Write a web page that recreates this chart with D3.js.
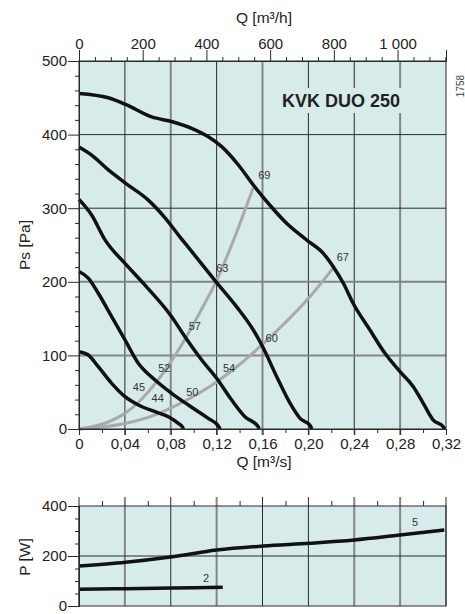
<!DOCTYPE html>
<html><head><meta charset="utf-8">
<script src="https://cdn.jsdelivr.net/npm/d3@7"></script>
<style>
html,body{margin:0;padding:0;background:#fff;}
svg{display:block;font-family:"Liberation Sans",Arial,sans-serif;}
</style></head>
<body>
<svg id="chart" width="465" height="614"></svg>
<script>
// ---------- DATA ----------
const qTicksS = [0, 0.04, 0.08, 0.12, 0.16, 0.20, 0.24, 0.28, 0.32];
const qTickLabelsS = ["0", "0,04", "0,08", "0,12", "0,16", "0,20", "0,24", "0,28", "0,32"];
const qTicksH = [0, 200, 400, 600, 800, 1000];
const qTickLabelsH = ["0", "200", "400", "600", "800", "1 000"];
const psTicks = [0, 100, 200, 300, 400, 500];
const pTicks = [0, 200, 400];

// fan curves: [Q m³/s, Ps Pa]
const fanCurve1 = [[0,456],[0.0256,450],[0.0407,441],[0.0634,424],[0.0814,417.5],[0.0982,408.5],[0.1128,397],[0.1244,383.6],[0.139,358.7],[0.152,331.5],[0.1665,304],[0.181,279.5],[0.1985,256.8],[0.213,238.7],[0.2217,220.5],[0.2305,198],[0.239,170.8],[0.2537,134.5],[0.2668,102.8],[0.2799,77.9],[0.2915,57.5],[0.3002,34.9],[0.3089,12.2],[0.3176,3.1],[0.319,0]];
const fanCurve2 = [[0,383],[0.011,372],[0.0256,352],[0.0407,333.8],[0.0604,311],[0.075,287],[0.0895,258],[0.0968,244],[0.1195,200],[0.1375,166],[0.152,134.5],[0.1607,110],[0.1724,71],[0.184,35],[0.1927,14.5],[0.2014,5],[0.203,0]];
const fanCurve3 = [[0,312],[0.011,290.8],[0.0227,257],[0.0401,225],[0.0575,195.6],[0.0808,152.6],[0.0924,125.4],[0.107,93.75],[0.12,68.9],[0.1331,39.4],[0.1447,16.7],[0.1563,3],[0.157,0]];
const fanCurve4 = [[0,214],[0.0081,205],[0.0168,184.4],[0.0285,152.6],[0.0401,121],[0.0517,89.3],[0.0663,66.6],[0.0808,48.5],[0.0953,32.6],[0.1127,14.5],[0.1215,4],[0.123,0]];
const fanCurve5 = [[0,105],[0.0081,100.5],[0.0168,84.6],[0.0285,62],[0.0401,43.9],[0.0517,32.6],[0.0663,23.5],[0.0779,16.7],[0.0866,7.7],[0.0905,2],[0.091,0]];

// system curves (grey)
const sysCurveA = [[0,0],[0.0256,9.5],[0.0401,21.3],[0.0517,36],[0.0677,64.3],[0.0808,93],[0.0924,122],[0.107,163],[0.12,202],[0.1331,250],[0.152,328]];
const sysCurveB = [[0,0],[0.0401,7.5],[0.0692,21],[0.0808,29],[0.107,51],[0.12,64],[0.1419,90],[0.1607,116],[0.2014,180],[0.2217,219]];

// curve labels: [text, Q, Ps]
const ptLabels = [["69",0.1616,345],["67",0.230,234],["63",0.125,219],["57",0.101,140],["60",0.168,124],["54",0.1308,83],["52",0.0744,83],["50",0.0988,50.7],["45",0.0523,57.5],["44",0.0686,41.7]];

// power curves: [Q m³/s, P W]
const powerCurve5 = [[0,160],[0.0407,175],[0.0814,197],[0.12,224],[0.1607,240],[0.2014,251],[0.24,264],[0.2799,284],[0.3185,304]];
const powerCurve2 = [[0,67],[0.0407,69],[0.0814,72],[0.1253,75]];
const powerLabels = [["5",0.293,335],["2",0.1107,113]];

// ---------- DRAW ----------
const svg = d3.select("#chart");
const bg = "#d7ecea", dark = "#2a2a2a", grey = "#858585", txt = "#222";

const x = d3.scaleLinear().domain([0, 0.32]).range([79, 446]);
const xH = d3.scaleLinear().domain([0, 0.32 * 3600]).range([79, 446]);
const y = d3.scaleLinear().domain([0, 500]).range([429, 61]);
const yP = d3.scaleLinear().domain([0, 400]).range([606, 506]);

const greyV = new Set([0.08, 0.16, 0.28]);
const greyH = new Set([100, 200]);
const greyVP = new Set([0.04, 0.12, 0.24, 0.28]);

// ---- upper panel ----
const up = svg.append("g");
up.append("rect").attr("x", x(0)).attr("y", y(500)).attr("width", x(0.32) - x(0)).attr("height", y(0) - y(500)).attr("fill", bg);

// vertical grid (extend below as major ticks)
up.selectAll(".vg").data(qTicksS.slice(1, -1)).join("line")
  .attr("x1", d => x(d)).attr("x2", d => x(d)).attr("y1", y(500)).attr("y2", y(0) + 6)
  .attr("stroke", d => greyV.has(d) ? grey : dark).attr("stroke-width", d => greyV.has(d) ? 2 : 1);
up.selectAll(".hg").data(psTicks.slice(1, -1)).join("line")
  .attr("x1", x(0)).attr("x2", x(0.32)).attr("y1", d => y(d)).attr("y2", d => y(d))
  .attr("stroke", d => greyH.has(d) ? grey : dark).attr("stroke-width", d => greyH.has(d) ? 2 : 1);

// title with background
up.append("rect").attr("x", 279).attr("y", 88).attr("width", 126).attr("height", 25).attr("fill", bg);
up.append("text").attr("x", 282).attr("y", 107).attr("font-size", 18).attr("font-weight", "bold").attr("fill", txt).text("KVK DUO 250");

// curves
const lineU = d3.line().x(d => x(d[0])).y(d => y(d[1])).curve(d3.curveMonotoneX);
[sysCurveA, sysCurveB].forEach(c => up.append("path").attr("d", lineU(c)).attr("fill", "none").attr("stroke", "#a9a9a9").attr("stroke-width", 3));
[fanCurve1, fanCurve2, fanCurve3, fanCurve4, fanCurve5].forEach(c => up.append("path").attr("d", lineU(c)).attr("fill", "none").attr("stroke", "#111").attr("stroke-width", 3.5).attr("stroke-linejoin", "round"));

up.selectAll(".pl").data(ptLabels).join("text")
  .attr("x", d => x(d[1])).attr("y", d => y(d[2])).attr("dy", "0.35em").attr("text-anchor", "middle")
  .attr("font-size", 11).attr("fill", "#333").text(d => d[0]);

// frame
up.append("rect").attr("x", x(0)).attr("y", y(500)).attr("width", x(0.32) - x(0)).attr("height", y(0) - y(500)).attr("fill", "none").attr("stroke", dark).attr("stroke-width", 1);

// axes
function styleAxis(g, fs) {
  g.select(".domain").attr("stroke", dark);
  g.selectAll(".tick line").attr("stroke", dark);
  g.selectAll(".tick text").attr("fill", txt).attr("font-size", fs).attr("font-family", "Liberation Sans, Arial, sans-serif");
}
// bottom
const bAx = up.append("g").attr("transform", `translate(0,${y(0)})`)
  .call(d3.axisBottom(x).tickValues(qTicksS).tickSize(6).tickPadding(3).tickFormat((d, i) => qTickLabelsS[i]));
styleAxis(bAx, 15);
const bMin = up.append("g").attr("transform", `translate(0,${y(0)})`)
  .call(d3.axisBottom(x).tickValues(qTicksS.slice(0, -1).map(d => d + 0.02)).tickSize(4).tickFormat(""));
styleAxis(bMin, 15);
// top (m³/h)
const tAx = up.append("g").attr("transform", `translate(0,${y(500)})`)
  .call(d3.axisTop(xH).tickValues(qTicksH).tickSize(11).tickPadding(1).tickFormat((d, i) => qTickLabelsH[i]));
styleAxis(tAx, 15);
const tMin = up.append("g").attr("transform", `translate(0,${y(500)})`)
  .call(d3.axisTop(xH).tickValues(d3.range(50, 1152, 50).filter(d => d % 200 !== 0)).tickSize(4).tickFormat(""));
styleAxis(tMin, 15);
// left
const lAx = up.append("g").attr("transform", `translate(${x(0)},0)`)
  .call(d3.axisLeft(y).tickValues(psTicks).tickSize(11).tickPadding(1).tickFormat(d => d));
styleAxis(lAx, 15);
const lMin = up.append("g").attr("transform", `translate(${x(0)},0)`)
  .call(d3.axisLeft(y).tickValues(d3.range(20, 500, 20).filter(d => d % 100 !== 0)).tickSize(4).tickFormat(""));
styleAxis(lMin, 15);

// axis titles
svg.append("text").attr("x", 264).attr("y", 23).attr("text-anchor", "middle").attr("font-size", 15.5).attr("fill", txt).text("Q [m³/h]");
svg.append("text").attr("x", 264).attr("y", 467).attr("text-anchor", "middle").attr("font-size", 15.5).attr("fill", txt).text("Q [m³/s]");
svg.append("text").attr("transform", "translate(30,245) rotate(-90)").attr("text-anchor", "middle").attr("font-size", 15.5).attr("fill", txt).text("Ps [Pa]");
svg.append("text").attr("transform", "translate(464,86) rotate(-90)").attr("text-anchor", "middle").attr("font-size", 10).attr("fill", "#444").text("1758");

// ---- lower panel ----
const lo = svg.append("g");
lo.append("rect").attr("x", x(0)).attr("y", yP(400)).attr("width", x(0.32) - x(0)).attr("height", yP(0) - yP(400)).attr("fill", bg);
lo.selectAll(".vg").data(qTicksS.slice(1, -1)).join("line")
  .attr("x1", d => x(d)).attr("x2", d => x(d)).attr("y1", yP(400) - 9).attr("y2", yP(0))
  .attr("stroke", d => greyVP.has(d) ? grey : dark).attr("stroke-width", d => greyVP.has(d) ? 2 : 1);
lo.append("line").attr("x1", x(0)).attr("x2", x(0.32)).attr("y1", yP(200)).attr("y2", yP(200)).attr("stroke", dark).attr("stroke-width", 1);

const lineP = d3.line().x(d => x(d[0])).y(d => yP(d[1])).curve(d3.curveMonotoneX);
[powerCurve5, powerCurve2].forEach(c => lo.append("path").attr("d", lineP(c)).attr("fill", "none").attr("stroke", "#111").attr("stroke-width", 3.5));
lo.selectAll(".pw").data(powerLabels).join("text")
  .attr("x", d => x(d[1])).attr("y", d => yP(d[2])).attr("dy", "0.35em").attr("text-anchor", "middle")
  .attr("font-size", 11).attr("fill", "#333").text(d => d[0]);

lo.append("rect").attr("x", x(0)).attr("y", yP(400)).attr("width", x(0.32) - x(0)).attr("height", yP(0) - yP(400)).attr("fill", "none").attr("stroke", dark).attr("stroke-width", 1);

const ptAx = lo.append("g").attr("transform", `translate(0,${yP(400)})`)
  .call(d3.axisTop(x).tickValues(qTicksS.slice(0, -1).map(d => d + 0.02)).tickSize(5).tickFormat(""));
styleAxis(ptAx, 15);
ptAx.select(".domain").remove();
const plAx = lo.append("g").attr("transform", `translate(${x(0)},0)`)
  .call(d3.axisLeft(yP).tickValues(pTicks).tickSize(11).tickPadding(1).tickFormat(d => d));
styleAxis(plAx, 15);
const plMin = lo.append("g").attr("transform", `translate(${x(0)},0)`)
  .call(d3.axisLeft(yP).tickValues(d3.range(50, 400, 50).filter(d => d % 200 !== 0)).tickSize(4).tickFormat(""));
styleAxis(plMin, 15);
// left axis line extends above the frame
lo.append("line").attr("x1", x(0)).attr("x2", x(0)).attr("y1", yP(400) - 9).attr("y2", yP(0)).attr("stroke", dark);
lo.append("line").attr("x1", x(0.32)).attr("x2", x(0.32)).attr("y1", yP(400) - 9).attr("y2", yP(0)).attr("stroke", dark);
svg.append("text").attr("transform", "translate(30,557) rotate(-90)").attr("text-anchor", "middle").attr("font-size", 15.5).attr("fill", txt).text("P [W]");
</script>
</body></html>
